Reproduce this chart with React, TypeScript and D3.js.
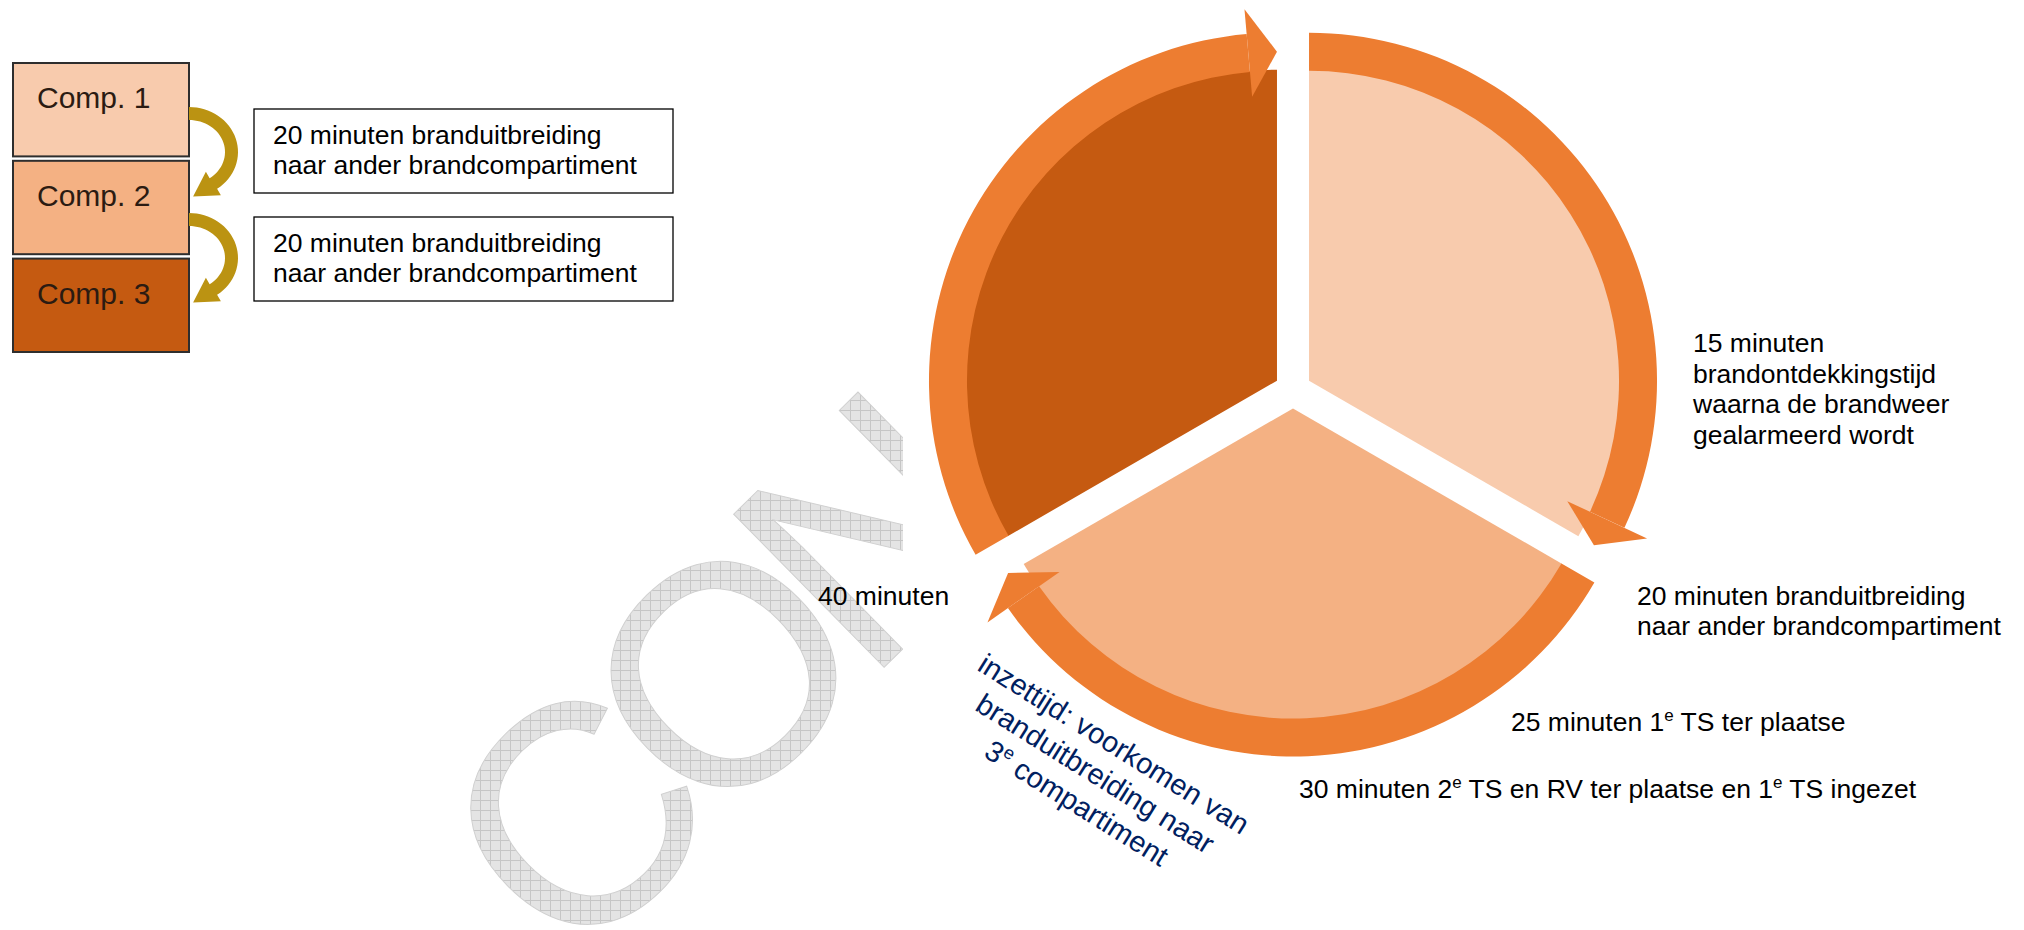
import * as d3 from "d3";

// ---- content ----
const compartments = ["Comp. 1", "Comp. 2", "Comp. 3"];
const spreadNote = ["20 minuten branduitbreiding", "naar ander brandcompartiment"];
const spreadNotes = [spreadNote, spreadNote];

// three equal phases of the cycle (clockwise from 12 o'clock)
const cyclePhases = [1, 1, 1];
const phaseColors = ["#F8CBAD", "#F4B183", "#C55A11"];
const compColors = ["#F8CBAD", "#F4B183", "#C55A11"];

const detectionNote = ["15 minuten", "brandontdekkingstijd", "waarna de brandweer", "gealarmeerd wordt"];
const spreadLabel = ["20 minuten branduitbreiding", "naar ander brandcompartiment"];
const firstTruckLabel = "25 minuten 1^e TS ter plaatse";
const secondTruckLabel = "30 minuten 2^e TS en RV ter plaatse en 1^e TS ingezet";
const fortyLabel = "40 minuten";
const interventionNote = ["inzettijd: voorkomen van", "branduitbreiding naar", "3^e compartiment"];
const watermark = "CONCEPT";

// ---- layout ----
const W = 2024;
const H = 930;
const FONT = "Arial, 'Liberation Sans', sans-serif";
const RING = "#ED7D31";
const GOLD = "#BB9312";

const cx = 1293;
const cy = 390;
const explode = 18.5;
const rIn = 310;
const rOut = 348;
const rMid = (rIn + rOut) / 2;
const headAngle = (5 * Math.PI) / 180;
const barb = 25;

const wmTransform = "translate(572,974) rotate(-44.5)";
const wmCut = 903;

const polar = (a: number, r: number): [number, number] => [r * Math.sin(a), -r * Math.cos(a)];

// renders "1^e" style superscripts
function richText(s: string, supSize: number) {
  const parts = s.split("^e");
  const out: any[] = [];
  parts.forEach((p, i) => {
    out.push(
      <tspan key={`p${i}`} dy={i > 0 ? supSize * 0.6 : undefined}>
        {p}
      </tspan>
    );
    if (i < parts.length - 1) {
      out.push(
        <tspan key={`s${i}`} fontSize={supSize} dy={-supSize * 0.6}>
          e
        </tspan>
      );
    }
  });
  return out;
}

// crescent-shaped curved arrow from one compartment to the next
function goldArrowPath(ax: number, ay: number) {
  const o = { rx: 49, ry: 45 };
  const inn = { rx: 36, ry: 32 };
  const a0 = -Math.PI / 2;
  const a1 = (55 * Math.PI) / 180;
  const n = 32;
  const outerPts: [number, number][] = d3.range(n + 1).map((i) => {
    const a = a0 + ((a1 - a0) * i) / n;
    return [ax + o.rx * Math.cos(a), ay + o.ry * Math.sin(a)];
  });
  const innerPts: [number, number][] = d3.range(n + 1).map((i) => {
    const a = a0 + ((a1 - a0) * (n - i)) / n;
    return [ax + inn.rx * Math.cos(a), ay + inn.ry * Math.sin(a)];
  });
  const oe = outerPts[n];
  const ie = innerPts[0];
  const mid: [number, number] = [(oe[0] + ie[0]) / 2, (oe[1] + ie[1]) / 2];
  const mrx = (o.rx + inn.rx) / 2;
  const mry = (o.ry + inn.ry) / 2;
  let tx = -mrx * Math.sin(a1);
  let ty = mry * Math.cos(a1);
  const tl = Math.hypot(tx, ty);
  tx /= tl;
  ty /= tl;
  const nx = -ty;
  const ny = tx;
  const head: [number, number][] = [
    [mid[0] - nx * 14, mid[1] - ny * 14],
    [mid[0] + tx * 24, mid[1] + ty * 24],
    [mid[0] + nx * 14, mid[1] + ny * 14],
  ];
  return d3.line()([...outerPts, head[0], head[1], head[2], ...innerPts])! + "Z";
}

export default function App() {
  const arcs = d3.pie<number>().sort(null)(cyclePhases);
  const sliceArc = d3.arc<any>().innerRadius(0).outerRadius(rIn + 1);
  const ringArc = d3.arc<any>().innerRadius(rIn).outerRadius(rOut);
  const headLine = d3.line();

  const compY = d3.scaleBand<string>().domain(compartments).range([63, 352]).paddingInner(0.045);
  const arrowCenters = [152, 258];
  const noteTops = [109, 217];

  const wmText = (props: any) => (
    <text
      transform={wmTransform}
      fontFamily={FONT}
      fontSize={312}
      letterSpacing={-28}
      {...props}
    >
      {watermark}
    </text>
  );

  return (
    <div style={{ position: "absolute", left: 0, top: 0 }}>
      <svg width={W} height={H} viewBox={`0 0 ${W} ${H}`} style={{ display: "block" }}>
        <defs>
          <pattern id="wmgrid" width={10} height={10} patternUnits="userSpaceOnUse">
            <rect width={10} height={10} fill="#E4E4E4" />
            <path d="M0 0.5H10M0.5 0V10" stroke="#C6C6C6" strokeWidth={1} />
          </pattern>
          <mask id="wmmask" maskUnits="userSpaceOnUse" x={0} y={0} width={W} height={H}>
            {wmText({ fill: "#fff" })}
          </mask>
          <clipPath id="wmclip">
            <rect x={0} y={0} width={wmCut} height={H} />
          </clipPath>
        </defs>
        <rect width={W} height={H} fill="#ffffff" />

        {/* watermark */}
        <g clipPath="url(#wmclip)">
          <rect x={0} y={0} width={wmCut} height={H} fill="url(#wmgrid)" mask="url(#wmmask)" />
          {wmText({ fill: "none", stroke: "#D0D0D0", strokeWidth: 1 })}
        </g>

        {/* compartments */}
        {compartments.map((c, i) => (
          <g key={c}>
            <rect
              x={13}
              y={compY(c)}
              width={176}
              height={compY.bandwidth()}
              fill={compColors[i]}
              stroke="#2e2e2e"
              strokeWidth={2}
            />
            <text x={37} y={(compY(c) ?? 0) + 45} fontFamily={FONT} fontSize={30} fill="#2b1b12">
              {c}
            </text>
          </g>
        ))}
        {arrowCenters.map((y, i) => (
          <path key={i} d={goldArrowPath(189, y)} fill={GOLD} />
        ))}
        {spreadNotes.map((lines, i) => (
          <g key={i}>
            <rect x={254} y={noteTops[i]} width={419} height={84} fill="#fff" stroke="#000" strokeWidth={1.3} />
            {lines.map((l, j) => (
              <text key={j} x={273} y={noteTops[i] + 35 + j * 29.5} fontFamily={FONT} fontSize={26.5} fill="#000">
                {l}
              </text>
            ))}
          </g>
        ))}

        {/* cycle */}
        <g transform={`translate(${cx},${cy})`}>
          {arcs.map((d, i) => {
            const [ox, oy] = polar((d.startAngle + d.endAngle) / 2, explode);
            const end = d.endAngle;
            const head = headLine([
              polar(end - headAngle, rOut + barb),
              polar(end, rMid),
              polar(end - headAngle, rIn - barb),
            ])! + "Z";
            return (
              <g key={i} transform={`translate(${ox},${oy})`}>
                <path d={sliceArc(d)!} fill={phaseColors[i]} />
                <path d={ringArc({ startAngle: d.startAngle, endAngle: end - headAngle })!} fill={RING} />
                <path d={head} fill={RING} />
              </g>
            );
          })}
        </g>

        {/* annotations */}
        <g fontFamily={FONT} fontSize={26.5} fill="#000">
          {detectionNote.map((l, i) => (
            <text key={l} x={1693} y={352 + i * 30.5}>
              {l}
            </text>
          ))}
          {spreadLabel.map((l, i) => (
            <text key={l} x={1637} y={605 + i * 30}>
              {l}
            </text>
          ))}
          <text x={818} y={605}>
            {fortyLabel}
          </text>
          <text x={1511} y={731}>
            {richText(firstTruckLabel, 17)}
          </text>
          <text x={1299} y={798}>
            {richText(secondTruckLabel, 17)}
          </text>
        </g>
        <g transform="translate(1090,782) rotate(32)">
          {interventionNote.map((l, i) => (
            <text
              key={l}
              x={0}
              y={(i - 1) * 35}
              textAnchor="middle"
              fontFamily={FONT}
              fontSize={29}
              fill="#002060"
            >
              {richText(l, 18)}
            </text>
          ))}
        </g>
      </svg>
    </div>
  );
}
